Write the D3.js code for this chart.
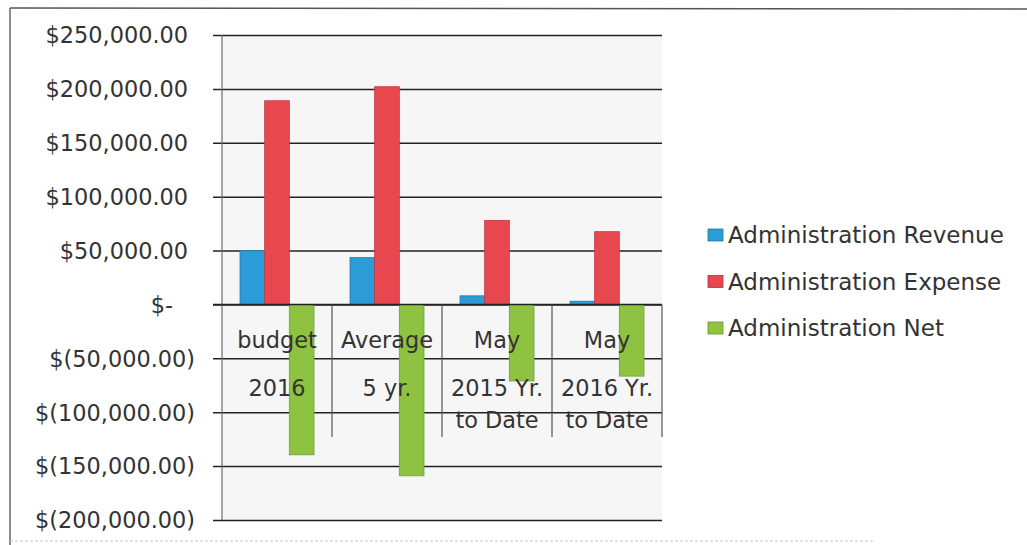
<!DOCTYPE html>
<html>
<head>
<meta charset="utf-8">
<script src="https://cdn.jsdelivr.net/npm/d3@7"></script>
<style>
  html, body { margin: 0; padding: 0; background: #ffffff; }
  svg { display: block; }
  text { font-family: "DejaVu Sans", sans-serif; fill: #333333; }
</style>
</head>
<body>
<svg id="chart" width="1027" height="545"></svg>
<script>
// ---- data ----
const categories = ["budget 2016", "Average 5 yr.", "May 2015 Yr. to Date", "May 2016 Yr. to Date"];
const categoryLines = [["budget", "2016"], ["Average", "5 yr."], ["May", "2015 Yr.", "to Date"], ["May", "2016 Yr.", "to Date"]];
const seriesNames = ["Administration Revenue", "Administration Expense", "Administration Net"];
const revenue = [50000, 43500, 8000, 3000];
const expense = [189000, 202000, 78000, 67500];
const net = [-139500, -159000, -71000, -66500];
const tickValues = [250000, 200000, 150000, 100000, 50000, 0, -50000, -100000, -150000, -200000];
const tickLabels = ["$250,000.00", "$200,000.00", "$150,000.00", "$100,000.00", "$50,000.00", "$-",
                    "$(50,000.00)", "$(100,000.00)", "$(150,000.00)", "$(200,000.00)"];
const colors = ["#2b9cd8", "#e9474f", "#8dc341"];

const seriesValues = [revenue, expense, net];

const svg = d3.select("#chart");

// outer frame (scanned chart border)
svg.append("line").attr("x1", 10).attr("x2", 1027).attr("y1", 8).attr("y2", 9)
  .attr("stroke", "#555").attr("stroke-width", 1.5);
svg.append("line").attr("x1", 10).attr("x2", 10).attr("y1", 8).attr("y2", 545)
  .attr("stroke", "#666").attr("stroke-width", 1.5);
svg.append("line").attr("x1", 10).attr("x2", 875).attr("y1", 541).attr("y2", 541)
  .attr("stroke", "#c8c8c8").attr("stroke-width", 1).attr("stroke-dasharray", "3,2");

const plotLeft = 222, plotRight = 662, plotTop = 35, plotBottom = 520;

// plot background
svg.append("rect").attr("x", plotLeft).attr("y", plotTop)
  .attr("width", plotRight - plotLeft).attr("height", plotBottom - plotTop)
  .attr("fill", "#f6f6f6");

const y = d3.scaleLinear().domain([-200000, 250000]).range([plotBottom, plotTop]);
const x0 = d3.scaleBand().domain(categories).range([plotLeft, plotRight]).padding(0);
const x1 = d3.scaleBand().domain(seriesNames).range([18, x0.bandwidth() - 18]).padding(0);

// gridlines with outer tick marks
const gridG = svg.append("g").attr("transform", `translate(${plotLeft - 9},0)`)
  .call(d3.axisRight(y).tickValues(tickValues).tickSize(plotRight - plotLeft + 9).tickFormat(""));
gridG.select(".domain").remove();
gridG.selectAll(".tick line").attr("stroke", "#222").attr("stroke-width", 1.5);

// left axis line
svg.append("line").attr("x1", plotLeft).attr("x2", plotLeft).attr("y1", plotTop).attr("y2", plotBottom)
  .attr("stroke", "#6a6a6a").attr("stroke-width", 1.2);

// tick labels
const yAxis = d3.axisLeft(y).tickValues(tickValues).tickSize(0)
  .tickFormat((d, i) => tickLabels[i]);
const yG = svg.append("g").attr("transform", "translate(195,0)").call(yAxis);
yG.select(".domain").remove();
yG.selectAll(".tick text")
  .style("font-family", "DejaVu Sans, sans-serif")
  .style("font-size", "22.4px")
  .attr("fill", "#333")
  .attr("dy", "0.35em")
  .attr("x", d => d > 0 ? -7 : (d === 0 ? -22 : 0));

// bars
const groups = svg.append("g").selectAll("g")
  .data(categories).join("g")
  .attr("transform", d => `translate(${x0(d)},0)`);

groups.selectAll("rect")
  .data((c, ci) => seriesNames.map((s, si) => ({ s, v: seriesValues[si][ci], color: colors[si] })))
  .join("rect")
  .attr("x", d => x1(d.s))
  .attr("width", x1.bandwidth())
  .attr("y", d => y(Math.max(0, d.v)))
  .attr("height", d => Math.abs(y(d.v) - y(0)))
  .attr("fill", d => d.color)
  .attr("stroke", d => d3.color(d.color).darker(0.6))
  .attr("stroke-width", 0.8);

// zero line on top
svg.append("line").attr("x1", plotLeft - 9).attr("x2", plotRight).attr("y1", y(0)).attr("y2", y(0))
  .attr("stroke", "#222").attr("stroke-width", 1.5);

// category separators
const sepX = categories.map(c => x0(c) + x0.bandwidth());
svg.append("g").selectAll("line").data(sepX).join("line")
  .attr("x1", d => d).attr("x2", d => d)
  .attr("y1", y(0)).attr("y2", 437)
  .attr("stroke", "#555").attr("stroke-width", 1.2);

// category labels
const lineY = [340, 388, 420];
const catG = svg.append("g").selectAll("g").data(categories).join("g");
catG.each(function (c, ci) {
  d3.select(this).selectAll("text").data(categoryLines[ci]).join("text")
    .attr("x", x0(c) + x0.bandwidth() / 2)
    .attr("y", (d, li) => lineY[li])
    .attr("dy", "0.35em")
    .attr("text-anchor", "middle")
    .style("font-size", "22.4px")
    .text(d => d);
});

// legend
const legend = svg.append("g").selectAll("g").data(seriesNames).join("g")
  .attr("transform", (d, i) => `translate(708, ${235 + i * 46.5})`);
legend.append("rect").attr("x", 0).attr("y", -6).attr("width", 15).attr("height", 12)
  .attr("fill", (d, i) => colors[i])
  .attr("stroke", (d, i) => d3.color(colors[i]).darker(0.8)).attr("stroke-width", 0.8);
legend.append("text").attr("x", 20).attr("y", 0).attr("dy", "0.35em")
  .style("font-size", "23px")
  .text(d => d);
</script>
</body>
</html>
